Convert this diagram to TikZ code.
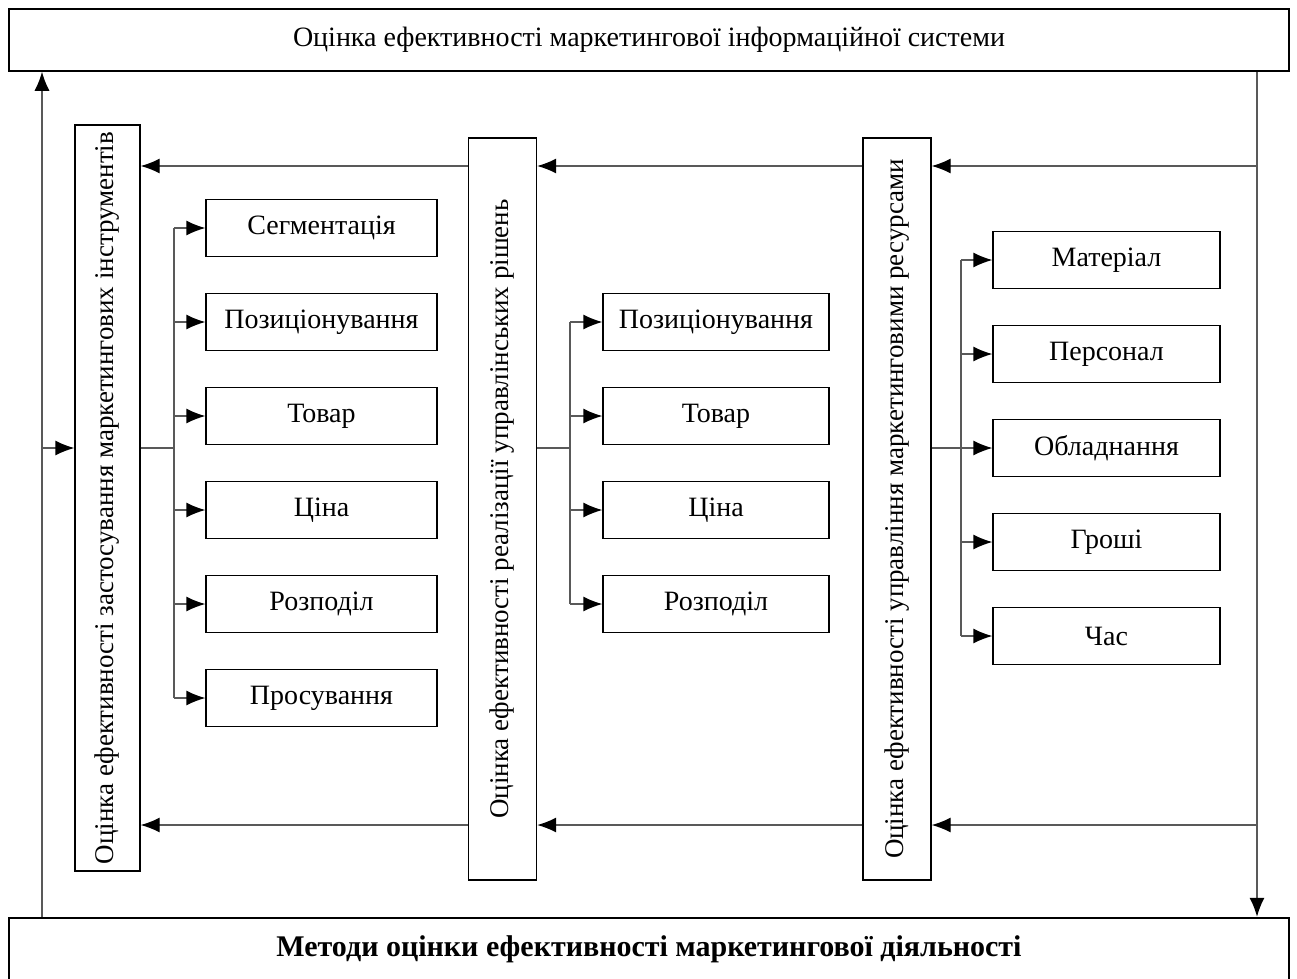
\documentclass[tikz,border=0pt]{standalone}
\usepackage{fontspec}
\setmainfont{Liberation Serif}
\usetikzlibrary{positioning,arrows.meta}

\begin{document}
\begin{tikzpicture}[x=1pt, y=-1pt,
  every node/.style={font=\fontsize{28}{32}\selectfont},
  box/.style={rectangle,draw,line width=1.3pt,minimum height=57pt,inner sep=0pt},
  vbox/.style={rectangle,draw,line width=1.3pt,rotate=90,inner sep=0pt,font=\fontsize{27}{32}\selectfont},
  link/.style={draw=black!65,line width=1.3pt},
  arr/.style={link,-{Latex[length=19pt,width=15pt,color=black]}}]

\useasboundingbox (0,0) rectangle (1297,978);

% Top and bottom
\node[rectangle,draw,line width=1.5pt,minimum width=1280pt,minimum height=62pt] at (649,40) (mis) {Оцінка ефективності маркетингової інформаційної системи};
\node[rectangle,draw,line width=2.5pt,minimum width=1280pt,minimum height=62pt,font=\fontsize{30}{34}\selectfont\bfseries] at (649,949) (methods) {Методи оцінки ефективності маркетингової діяльності};

% Main blocks
\node[vbox,minimum width=746pt,minimum height=65pt] at (107.5,498) (tools) {Оцінка ефективності застосування маркетингових інструментів};
\node[vbox,minimum width=742pt,minimum height=68pt] at (502.5,509) (decisions) {Оцінка ефективності реалізації управлінських рішень};
\node[vbox,minimum width=742pt,minimum height=68pt] at (897,509) (resources) {Оцінка ефективності управління маркетинговими ресурсами};

% Tools
\node[box,minimum width=231pt] at (321.5,228) (t1) {Сегментація};
\node[box,minimum width=231pt] at (321.5,322) (t2) {Позиціонування};
\node[box,minimum width=231pt] at (321.5,416) (t3) {Товар};
\node[box,minimum width=231pt] at (321.5,510) (t4) {Ціна};
\node[box,minimum width=231pt] at (321.5,604) (t5) {Розподіл};
\node[box,minimum width=231pt] at (321.5,698) (t6) {Просування};

% Decisions
\node[box,minimum width=226pt] at (716,322) (d1) {Позиціонування};
\node[box,minimum width=226pt] at (716,416) (d2) {Товар};
\node[box,minimum width=226pt] at (716,510) (d3) {Ціна};
\node[box,minimum width=226pt] at (716,604) (d4) {Розподіл};

% Resources
\node[box,minimum width=227pt] at (1106.5,260) (r1) {Матеріал};
\node[box,minimum width=227pt] at (1106.5,354) (r2) {Персонал};
\node[box,minimum width=227pt] at (1106.5,448) (r3) {Обладнання};
\node[box,minimum width=227pt] at (1106.5,542) (r4) {Гроші};
\node[box,minimum width=227pt] at (1106.5,636) (r5) {Час};

% Outer loop
\coordinate (left) at (42,448);
\coordinate (up) at (1257,166);
\coordinate (down) at (1257,825);
\draw[arr] (left |- methods.north) -- (left |- mis.south);
\draw[arr] (up |- mis.south) -- (up |- methods.north);
\draw[arr] (left) -- (left -| tools.north);

% Feedback arrows
\foreach \c in {up,down} {
  \draw[arr] (\c) -- (\c -| resources.south);
  \draw[arr] (\c -| resources.north) -- (\c -| decisions.south);
  \draw[arr] (\c -| decisions.north) -- (\c -| tools.south);
}

% Branches
\coordinate (tb) at (174,448);
\draw[link] (tb -| tools.south) -- (tb);
\draw[link] (tb |- t1.west) -- (tb |- t6.west);
\foreach \b in {t1,t2,t3,t4,t5,t6}
  \draw[arr] (tb |- \b.west) -- (\b.west);

\coordinate (db) at (570,448);
\draw[link] (db -| decisions.south) -- (db);
\draw[link] (db |- d1.west) -- (db |- d4.west);
\foreach \b in {d1,d2,d3,d4}
  \draw[arr] (db |- \b.west) -- (\b.west);

\coordinate (rb) at (961,448);
\draw[link] (rb -| resources.south) -- (rb);
\draw[link] (rb |- r1.west) -- (rb |- r5.west);
\foreach \b in {r1,r2,r3,r4,r5}
  \draw[arr] (rb |- \b.west) -- (\b.west);

\end{tikzpicture}
\end{document}
